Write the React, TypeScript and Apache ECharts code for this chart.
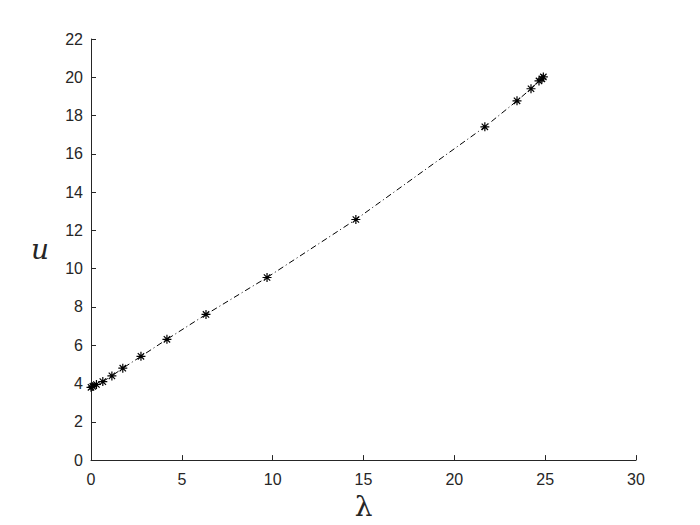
import React, { useEffect, useRef } from "react";
import * as echarts from "echarts";

const lambdaValues = [0.0, 0.1, 0.3, 0.65, 1.15, 1.75, 2.75, 4.18, 6.33, 9.69, 14.58, 21.68, 23.45, 24.22, 24.66, 24.82, 24.9];
const uValues = [3.8, 3.85, 3.95, 4.1, 4.4, 4.8, 5.42, 6.31, 7.61, 9.54, 12.57, 17.41, 18.77, 19.4, 19.81, 19.92, 20.02];
const xTicks = [0, 5, 10, 15, 20, 25, 30];
const yTicks = [0, 2, 4, 6, 8, 10, 12, 14, 16, 18, 20, 22];

const asterisk =
  "path://M0,-10L0,10M-10,0L10,0M-7.07,-7.07L7.07,7.07M-7.07,7.07L7.07,-7.07";

export default function App() {
  const ref = useRef<HTMLDivElement>(null);
  useEffect(() => {
    if (!ref.current) return;
    const chart = echarts.init(ref.current, null, { renderer: "svg" });
    const data = lambdaValues.map((x, i) => [x, uValues[i]]);
    const axisColor = "#262626";
    chart.setOption({
      animation: false,
      backgroundColor: "#ffffff",
      grid: { left: 91, right: 64, top: 39, bottom: 64 },
      xAxis: {
        type: "value",
        min: xTicks[0],
        max: xTicks[xTicks.length - 1],
        interval: 5,
        name: "λ",
        nameLocation: "middle",
        nameGap: 28,
        nameTextStyle: { fontFamily: "DejaVu Serif", fontSize: 28, color: axisColor },
        axisLine: { show: true, lineStyle: { color: axisColor, width: 1 } },
        axisTick: { show: true, inside: true, length: 5, lineStyle: { color: axisColor } },
        axisLabel: { color: axisColor, fontFamily: "Liberation Sans", fontSize: 16, margin: 11 },
        splitLine: { show: false },
      },
      yAxis: {
        type: "value",
        min: yTicks[0],
        max: yTicks[yTicks.length - 1],
        interval: 2,
        name: "u",
        nameLocation: "middle",
        nameRotate: 0,
        nameGap: 42,
        nameTextStyle: { fontFamily: "DejaVu Serif", fontStyle: "italic", fontSize: 28, color: axisColor },
        axisLine: { show: true, lineStyle: { color: axisColor, width: 1 } },
        axisTick: { show: true, inside: true, length: 5, lineStyle: { color: axisColor } },
        axisLabel: { color: axisColor, fontFamily: "Liberation Sans", fontSize: 16, margin: 8 },
        splitLine: { show: false },
      },
      series: [
        {
          type: "line",
          data,
          symbol: asterisk,
          symbolSize: 9,
          showAllSymbol: true,
          lineStyle: { color: "#000000", width: 1, type: [6, 3, 1, 3] },
          itemStyle: { color: "none", borderColor: "#000000", borderWidth: 1.2 },
        },
      ],
    });
    return () => chart.dispose();
  }, []);
  return <div ref={ref} style={{ width: 700, height: 525, position: "absolute", left: 0, top: 0 }} />;
}
